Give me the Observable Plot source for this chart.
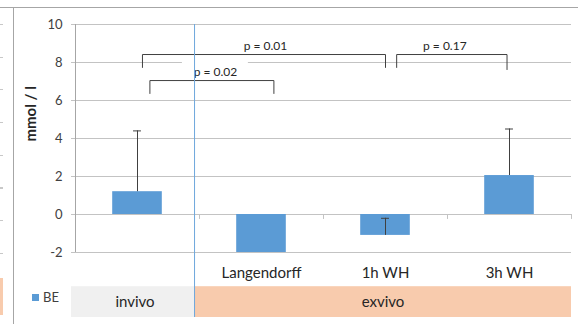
<!DOCTYPE html>
<html>
<head>
<meta charset="utf-8">
<script src="https://cdn.jsdelivr.net/npm/d3@7"></script>
<script src="https://cdn.jsdelivr.net/npm/@observablehq/plot@0.6"></script>
<style>
  html, body { margin: 0; padding: 0; background: #fff; }
  #chart { position: relative; width: 578px; height: 324px; overflow: hidden; font-family: Lato, "Open Sans", sans-serif; }
  #chart svg { position: absolute; left: 0; top: 0; }
  .frame-top { position: absolute; left: 0; top: 7px; width: 578px; height: 1px; background: #a6a6a6; }
  .frame-left { position: absolute; left: 13px; top: 7px; width: 1px; height: 317px; background: #a6a6a6; }
  .edge-ticks { position: absolute; left: 0; top: 24px; width: 3px; height: 232px;
    background: repeating-linear-gradient(to bottom, #c8c8c8 0 1px, transparent 1px 32.7px); }
  .edge-band { position: absolute; left: 0; top: 278px; width: 3px; height: 37px; background: #f8cbad; }
  .legend { position: absolute; left: 32px; top: 289px; font-size: 13px; color: #404040;
    display: flex; align-items: center; gap: 4px; line-height: 16px; }
  .legend .swatch { width: 7px; height: 7px; background: #5b9bd5; }
</style>
</head>
<body>
<div id="chart">
  <div class="frame-top"></div>
  <div class="frame-left"></div>
  <div class="edge-ticks"></div>
  <div class="edge-band"></div>
</div>
<script>
// Base excess (BE) per condition, with the upper error bar length
const categories = ["invivo", "Langendorff", "1h WH", "3h WH"];
const tickLabels = ["", "Langendorff", "1h WH", "3h WH"];
const beValues = [1.2, -2.0, -1.1, 2.05];
const beErrors = [3.2, null, 0.9, 2.45];
const yTicks = [-2, 0, 2, 4, 6, 8, 10];
const yTitle = "mmol / l";
const seriesName = "BE";

// Outer grouping row under the category labels
const groupNames = ["invivo", "exvivo"];
const groupMembers = [["invivo"], ["Langendorff", "1h WH", "3h WH"]];

// Pairwise comparisons drawn as brackets above the bars
const comparePairs = [["invivo", "1h WH"], ["invivo", "Langendorff"], ["1h WH", "3h WH"]];
const compareP = ["0.01", "0.02", "0.17"];

// ---- layout ----
const barColor = "#5b9bd5";
const gridColor = "#c3c3c3";
const inkColor = "#404040";
const groupFills = ["#f0f0f0", "#f8cbad"];
const xDomain = [-0.5, categories.length - 0.5];
const yDomain = [yTicks[0], yTicks[yTicks.length - 1]];
const step = 124;               // pixels per category
const halfBar = 0.2;
const capHalf = 0.032;
const divider = 0.46;           // hand-placed separator between the two groups
const rowLabelY = -3.1;         // category label row (below the plot frame)
const bandTop = -3.8, bandBottom = -5.42, bandLabelY = -4.63;

// bracket geometry: [left offset, right offset, level, left drop, right drop, label dx in px]
const bracketLayout = [
  [0.04, 0.0, 8.42, 0.68, 0.68, 1.5],
  [0.10, 0.10, 7.05, 0.68, 0.68, 3.5],
  [0.09, -0.02, 8.42, 0.68, 0.79, -7]
];

const idx = c => categories.indexOf(c);
const bars = categories.map((c, i) => ({cat: c, i, value: beValues[i], err: beErrors[i], label: tickLabels[i]}));
const withErr = bars.filter(d => d.err != null);

const groups = groupNames.map((name, g) => {
  const x1 = g === 0 ? xDomain[0] : divider;
  const x2 = g === groupNames.length - 1 ? xDomain[1] : divider;
  return {name, g, x1, x2, mid: (x1 + x2) / 2, members: groupMembers[g]};
});

const brackets = comparePairs.map(([a, b], k) => {
  const [oa, ob, lvl, da, db, ldx] = bracketLayout[k];
  const x1 = idx(a) + oa, x2 = idx(b) + ob;
  return {k, x1, x2, lvl, da, db, label: `p = ${compareP[k]}`, mid: (x1 + x2) / 2, lx: (x1 + x2) / 2 + ldx / step};
});
const bracketPts = brackets.flatMap(b => [
  {k: b.k, x: b.x1, y: b.lvl - b.da},
  {k: b.k, x: b.x1, y: b.lvl},
  {k: b.k, x: b.x2, y: b.lvl},
  {k: b.k, x: b.x2, y: b.lvl - b.db}
]);
// the lower bracket label sits in a white text box that interrupts the grid
const boxed = brackets.filter(b => b.k === 1);

const chart = Plot.plot({
  width: 578,
  height: 324,
  marginLeft: 75,
  marginRight: 7,
  marginTop: 24,
  marginBottom: 72,
  x: {domain: xDomain, axis: null},
  y: {domain: yDomain, axis: null},
  style: {fontFamily: "Lato, 'Open Sans', sans-serif", background: "transparent", overflow: "visible"},
  marks: [
    // grouping band row
    Plot.rect(groups.filter(d => d.g === 0), {x1: "x1", x2: "x2", y1: bandTop, y2: bandBottom, fill: groupFills[0], insetLeft: -4}),
    Plot.rect(groups.filter(d => d.g === 1), {x1: "x1", x2: "x2", y1: bandTop, y2: bandBottom, fill: groupFills[1]}),
    // horizontal gridlines with small left tick stubs
    Plot.ruleY(yTicks, {x1: xDomain[0], x2: xDomain[1], stroke: gridColor, insetLeft: -4}),
    Plot.rect(boxed, {x1: d => d.lx - 0.266, x2: d => d.lx + 0.266, y1: d => d.lvl + 0.1, y2: d => d.lvl + 1.15, fill: "white"}),
    // y axis line and category separators on the zero line
    Plot.ruleX([xDomain[0]], {y1: yDomain[0], y2: yDomain[1], stroke: "#a6a6a6"}),
    Plot.ruleX(bars, {x: d => d.i + 0.5, y1: 0, y2: -0.26, stroke: gridColor}),
    // bars
    Plot.rect(bars, {x1: d => d.i - halfBar, x2: d => d.i + halfBar, y1: 0, y2: "value", fill: barColor}),
    // error bars (plus direction)
    Plot.ruleX(withErr, {x: "i", y1: "value", y2: d => d.value + d.err, stroke: inkColor}),
    Plot.ruleY(withErr, {y: d => d.value + d.err, x1: d => d.i - capHalf, x2: d => d.i + capHalf, stroke: inkColor}),
    // comparison brackets
    Plot.line(bracketPts, {x: "x", y: "y", z: "k", stroke: inkColor, strokeWidth: 1}),
    Plot.text(brackets, {x: "lx", y: d => d.lvl + 0.43, text: "label", fontSize: 12, fill: "#262626"}),
    // group separator
    Plot.ruleX([divider], {y1: yDomain[1], y2: bandBottom, stroke: "#6fa8dc"}),
    // y tick labels
    Plot.text(yTicks, {x: xDomain[0], y: d => d, text: d => String(d), textAnchor: "end", dx: -13, fontSize: 13, fill: inkColor}),
    // y axis title
    Plot.text([yTitle], {frameAnchor: "left", rotate: -90, dx: -44, dy: 3, fontSize: 15, fontWeight: "bold", fill: "#262626"}),
    // category labels and group labels
    Plot.text(bars, {x: "i", y: rowLabelY, text: "label", fontSize: 15, fill: "#262626"}),
    Plot.text(groups, {x: "mid", y: bandLabelY, text: "name", fontSize: 15, fill: "#262626"})
  ]
});

const root = document.getElementById("chart");
root.appendChild(chart);
const legend = document.createElement("div");
legend.className = "legend";
legend.innerHTML = `<span class="swatch"></span><span>${seriesName}</span>`;
root.appendChild(legend);
</script>
</body>
</html>
